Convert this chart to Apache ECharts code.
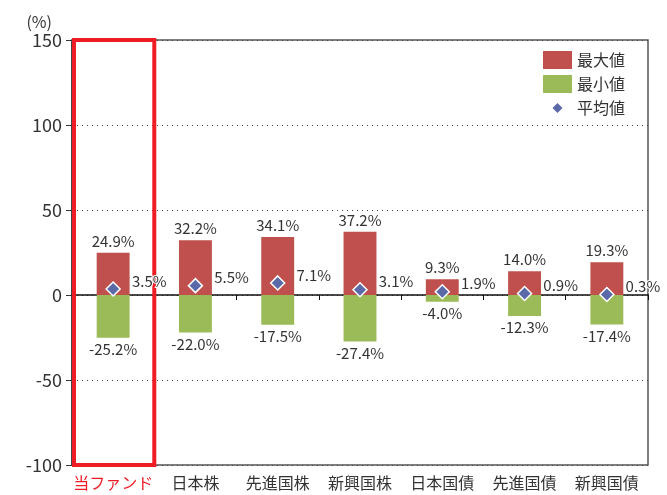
<!DOCTYPE html>
<html>
<head>
<meta charset="utf-8">
<script src="https://cdn.jsdelivr.net/npm/echarts@6/dist/echarts.min.js"></script>
<style>
  html, body { margin: 0; padding: 0; background: #fff; }
  #chart { width: 667px; height: 495px; }
</style>
</head>
<body>
<div id="chart"></div>
<script>
const categories = ['当ファンド', '日本株', '先進国株', '新興国株', '日本国債', '先進国債', '新興国債']
const maxValues = [24.9, 32.2, 34.1, 37.2, 9.3, 14.0, 19.3]
const minValues = [-25.2, -22.0, -17.5, -27.4, -4.0, -12.3, -17.4]
const avgValues = [3.5, 5.5, 7.1, 3.1, 1.9, 0.9, 0.3]

const font = 'Noto Sans CJK JP'
const chart = echarts.init(document.getElementById('chart'))

const pct = p => p.value.toFixed(1) + '%'

chart.setOption({
  animation: false,
  textStyle: { fontFamily: font },
  grid: {
    left: 72, right: 19, top: 40, bottom: 30,
    show: true, borderColor: '#555', borderWidth: 1.5, backgroundColor: 'transparent'
  },
  legend: {
    orient: 'vertical',
    right: 37,
    top: 46,
    itemWidth: 29,
    itemHeight: 18,
    itemGap: 6,
    backgroundColor: '#fff',
    textStyle: { fontSize: 16, color: '#333', fontFamily: font },
    data: [
      { name: '最大値', icon: 'rect' },
      { name: '最小値', icon: 'rect' },
      { name: '平均値', icon: 'path://M0,0M18,18M9,4L14,9L9,14L4,9Z', itemStyle: { borderWidth: 0 } }
    ]
  },
  xAxis: [
    {
      type: 'category',
      data: categories,
      axisLine: { onZero: true, lineStyle: { color: '#111', width: 1.5 } },
      axisTick: { show: true, length: 5, lineStyle: { color: '#111' } },
      axisLabel: { show: false }
    },
    {
      type: 'category',
      data: categories,
      position: 'bottom',
      axisLine: { show: false, onZero: false },
      axisTick: { show: false },
      axisLabel: {
        interval: 0,
        fontSize: 16,
        margin: 10,
        color: (v, i) => (i === 0 ? '#ee1c25' : '#333')
      }
    }
  ],
  yAxis: {
    type: 'value',
    min: -100,
    max: 150,
    interval: 50,
    name: '(%)',
    nameLocation: 'end',
    nameGap: 10,
    nameTextStyle: { fontSize: 16, color: '#333', align: 'right', padding: [0, 20, 0, 0] },
    axisLine: { show: true, lineStyle: { color: '#333', width: 1.5 } },
    axisTick: { show: true, length: 6, lineStyle: { color: '#333' } },
    axisLabel: { fontSize: 18, color: '#333', margin: 10 },
    splitLine: {
      show: true,
      lineStyle: { color: '#444', type: [1, 4], width: 1 }
    }
  },
  series: [
    {
      name: '最大値',
      type: 'bar',
      stack: 'range',
      barWidth: '40%',
      data: maxValues,
      itemStyle: { color: '#c0504d' },
      label: { show: true, position: 'top', distance: 4, fontSize: 15, color: '#333', formatter: pct }
    },
    {
      name: '最小値',
      type: 'bar',
      stack: 'range',
      barWidth: '40%',
      data: minValues,
      itemStyle: { color: '#9bbb59' },
      label: { show: true, position: 'bottom', distance: 4, fontSize: 15, color: '#333', formatter: pct }
    },
    {
      name: '平均値',
      type: 'scatter',
      symbol: 'diamond',
      symbolSize: 14,
      data: avgValues,
      z: 20,
      itemStyle: { color: '#5a6aa8', borderColor: '#fff', borderWidth: 1.5, opacity: 1 },
      label: {
        show: true, position: 'right', distance: 11,
        fontSize: 15, color: '#333', formatter: pct,
        textBorderColor: '#fff', textBorderWidth: 2
      },
      labelLayout: { hideOverlap: false, dy: -8 }
    }
  ]
})

// red frame around the fund's column
const gridRect = chart.getModel().getComponent('grid').coordinateSystem.getRect()
const bandW = gridRect.width / categories.length
const cx = chart.convertToPixel({ xAxisIndex: 1 }, categories[0])
chart.setOption({
  graphic: [{
    type: 'rect',
    shape: { x: cx - bandW / 2 + 2, y: gridRect.y, width: bandW - 2, height: gridRect.height },
    style: { fill: 'none', stroke: '#ee1c25', lineWidth: 4 },
    z: 10
  }]
})
</script>
</body>
</html>
